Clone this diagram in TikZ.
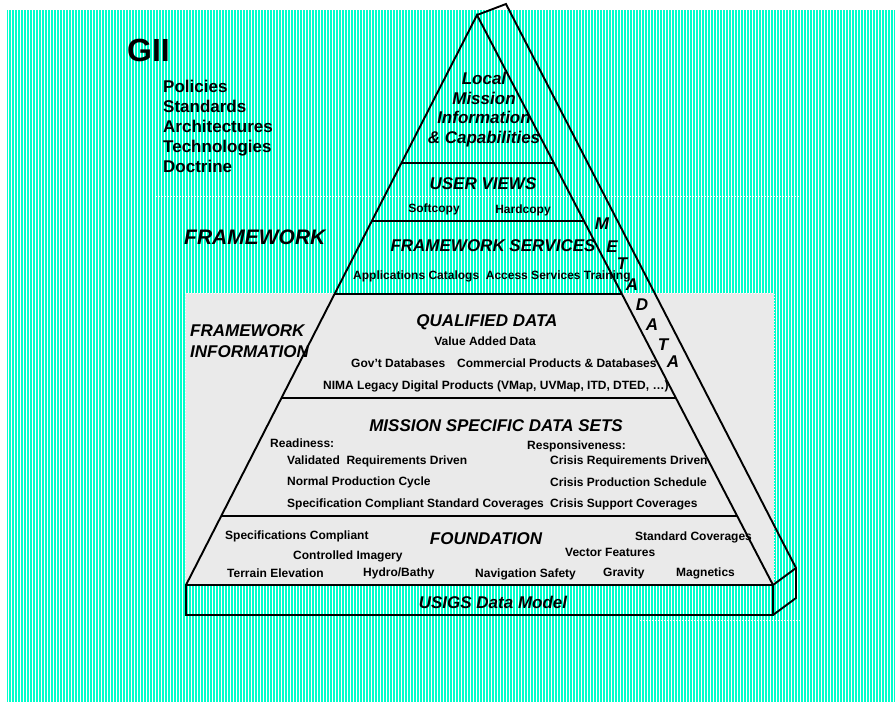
\documentclass[tikz,border=0pt]{standalone}
\usepackage{fontspec}
\setmainfont{Liberation Sans}
\usetikzlibrary{positioning,calc}
\definecolor{cyanfond}{RGB}{0,255,204}
\definecolor{grisfond}{RGB}{234,234,234}

\begin{document}
\begin{tikzpicture}[x=1pt, y=-1pt,
  trait/.style={line width=1.9pt},
  pointille/.style={white, dotted, line width=1pt},
  titre/.style={font=\bfseries\itshape\fontsize{17}{19.5}\selectfont, inner sep=0pt, text height=12.2pt, text depth=0pt},
  petit/.style={font=\bfseries\fontsize{12}{14}\selectfont, inner sep=0pt, text height=8.6pt, text depth=0pt, anchor=west},
  bloc/.style={font=\bfseries\itshape\fontsize{17}{19.5}\selectfont, inner sep=0pt},
  liste/.style={font=\bfseries\fontsize{17}{20}\selectfont, inner sep=0pt, align=left, anchor=north west}]

  \useasboundingbox (0,0) rectangle (895,702);

  % Fond
  \fill[white] (0,0) rectangle (895,702);
  \fill[cyanfond] (7,10) rectangle (895,702);
  \draw[white, line width=0.7pt] \foreach \x in {8.5,11.5,...,893.5} {(\x,10) -- (\x,702)};
  \fill[grisfond] (185,293) rectangle (774,585);
  \draw[pointille] (185,585) -- (185,293) -- (774,293) -- (774,585);
  \draw[pointille] (156,196) -- (800,196);
  \draw[pointille] (640,620) -- (800,620);

  % Pyramide
  \coordinate (sommet) at (477,15);
  \coordinate (sommetarr) at (506,4);
  \coordinate (bg) at (186,585);
  \coordinate (bd) at (773,585);
  \coordinate (bgbas) at (186,615);
  \coordinate (bdbas) at (773,615);
  \coordinate (arrhaut) at (796,568);
  \coordinate (arrbas) at (796,598);

  \draw[trait] (bg) -- (sommet) -- (bd);
  \draw[trait] (sommet) -- (sommetarr) -- (arrhaut) -- (arrbas) -- (bdbas);
  \draw[trait] (bd) -- (arrhaut);
  \draw[trait] (bg) -- (bd) -- (bdbas) -- (bgbas) -- cycle;
  \foreach \h in {163,221,294,398,516} {
    \pgfmathsetmacro\rap{(\h-15)/570}
    \draw[trait] ($(sommet)!\rap!(bg)$) -- ($(sommet)!\rap!(bd)$);
  }

  % Textes a gauche
  \node[font=\bfseries\fontsize{32}{34}\selectfont, inner sep=0pt, text height=23pt, text depth=0pt, anchor=west] (gii) at (127,50) {GII};
  \node[liste] (giiliste) at (163,80) {Policies\\Standards\\Architectures\\Technologies\\Doctrine};
  \node[font=\bfseries\itshape\fontsize{21}{23}\selectfont, inner sep=0pt, text height=15pt, text depth=0pt, anchor=west] (framework) at (184,237) {FRAMEWORK};
  \node[bloc, font=\bfseries\itshape\fontsize{17}{21}\selectfont, align=left, anchor=north west] (fwinfo) at (190,324) {FRAMEWORK\\INFORMATION};

  % Couches
  \node[bloc, align=center, anchor=north] (local) at (484,72) {Local\\Mission\\Information\\\& Capabilities};

  \node[titre] (userviews) at (483,183) {USER VIEWS};
  \node[petit, anchor=center] (soft) at (434,208) {Softcopy};
  \node[petit, anchor=center] (hard) at (523,209) {Hardcopy};

  \node[titre] (services) at (493,245) {FRAMEWORK SERVICES};
  \node[petit] (appli) at (353,275) {Applications Catalogs\ \ Access Services Training};

  \node[titre] (qualified) at (487,320) {QUALIFIED DATA};
  \node[petit, anchor=center] (value) at (485,341) {Value Added Data};
  \node[petit] (govt) at (351,363) {Gov't Databases};
  \node[petit] (commercial) at (457,363) {Commercial Products \& Databases};
  \node[petit] (nima) at (323,385) {NIMA Legacy Digital Products (VMap, UVMap, ITD, DTED, …)};

  \node[titre] (mission) at (496,425) {MISSION SPECIFIC DATA SETS};
  \node[petit] (readiness) at (270,443) {Readiness:};
  \node[petit] (validated) at (287,460) {Validated\ \ Requirements Driven};
  \node[petit] (normal) at (287,481) {Normal Production Cycle};
  \node[petit] (speccomp) at (287,503) {Specification Compliant Standard Coverages};
  \node[petit] (respons) at (527,445) {Responsiveness:};
  \node[petit] (crisisreq) at (550,460) {Crisis Requirements Driven};
  \node[petit] (crisisprod) at (550,482) {Crisis Production Schedule};
  \node[petit] (crisissup) at (550,503) {Crisis Support Coverages};

  \node[titre] (foundation) at (486,538) {FOUNDATION};
  \node[petit] (specs) at (225,535) {Specifications Compliant};
  \node[petit] (imagery) at (293,555) {Controlled Imagery};
  \node[petit] (terrain) at (227,573) {Terrain Elevation};
  \node[petit] (hydro) at (363,572) {Hydro/Bathy};
  \node[petit] (navigation) at (475,573) {Navigation Safety};
  \node[petit] (gravity) at (603,572) {Gravity};
  \node[petit] (magnetics) at (676,572) {Magnetics};
  \node[petit] (vector) at (565,552) {Vector Features};
  \node[petit] (standard) at (635,536) {Standard Coverages};

  \node[titre] (usigs) at (493,602) {USIGS Data Model};

  % Metadata
  \foreach \l/\x/\y [count=\i] in {M/602/223, E/612/246, T/622/263, A/632/284, D/642/304, A/652/324, T/663/344, A/673/361}
    \node[titre] (meta\i) at (\x,\y) {\l};
\end{tikzpicture}
\end{document}
